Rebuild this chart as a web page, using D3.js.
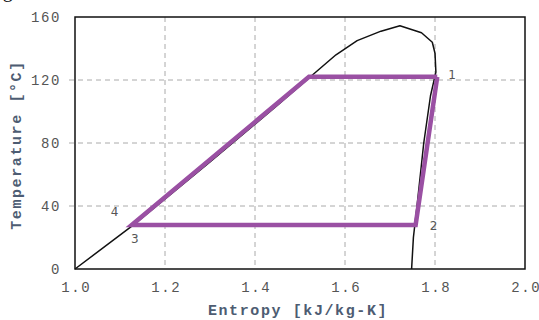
<!DOCTYPE html>
<html><head><meta charset="utf-8">
<script src="https://cdn.jsdelivr.net/npm/d3@7"></script>
<style>html,body{margin:0;padding:0;background:#fff;}svg{display:block;}</style>
</head><body>
<svg id="c" width="539" height="320"></svg>
<script>
// Saturation dome (entropy, temperature)
const domeS = [1.0, 1.13, 1.30, 1.45, 1.527, 1.58, 1.627, 1.68, 1.722, 1.77, 1.794, 1.80, 1.802, 1.79, 1.775, 1.76, 1.752, 1.748];
const domeT = [0, 28, 68, 104, 123, 136, 145, 151, 154.5, 150, 144, 137, 125, 110, 80, 40, 20, 0];
// Heat pump cycle
const cycleS = [1.805, 1.757, 1.126, 1.52, 1.805];
const cycleT = [122, 28, 28, 122, 122];
// State labels
const stateNames = ["1", "2", "3", "4"];
const stateS = [1.838, 1.797, 1.133, 1.088];
const stateT = [123, 27.5, 19, 36.5];
// Axis ticks
const xTicks = [1.0, 1.2, 1.4, 1.6, 1.8, 2.0];
const yTicks = [0, 40, 80, 120, 160];

const svg = d3.select("#c");
const L = 75, R = 525, T = 17, B = 269;
const x = d3.scaleLinear().domain([1.0, 2.0]).range([L, R]);
const y = d3.scaleLinear().domain([0, 160]).range([B, T]);

// clipped caption from the page above
svg.append("text").attr("x", -14).attr("y", -3)
  .attr("font-family", "Liberation Serif").attr("font-size", 20).attr("fill", "#111")
  .text("Figure");

// grid
const grid = svg.append("g").attr("stroke", "#aaa").attr("stroke-width", 1).attr("stroke-dasharray", "5,4");
xTicks.slice(1, -1).forEach(v => grid.append("line").attr("x1", x(v)).attr("x2", x(v)).attr("y1", T).attr("y2", B));
yTicks.slice(1, -1).forEach(v => grid.append("line").attr("x1", L - 6).attr("x2", R).attr("y1", y(v)).attr("y2", y(v)));

// axes via d3
const xAxis = d3.axisBottom(x).tickValues(xTicks).tickSize(0).tickPadding(13).tickFormat(d3.format(".1f"));
const yAxis = d3.axisLeft(y).tickValues(yTicks).tickSize(0).tickPadding(14).tickFormat(d3.format("d"));
const gx = svg.append("g").attr("transform", `translate(0,${B})`).call(xAxis);
const gy = svg.append("g").attr("transform", `translate(${L},0)`).call(yAxis);
[gx, gy].forEach(g => {
  g.select(".domain").remove();
  g.selectAll("text").attr("font-family", "Liberation Mono").attr("font-size", 14)
    .attr("letter-spacing", "1.6px").attr("fill", "#555");
});
gx.selectAll("text").attr("dy", "0.71em").attr("dx", "0.8px");

// frame
svg.append("rect").attr("x", L).attr("y", T).attr("width", R - L).attr("height", B - T)
  .attr("fill", "none").attr("stroke", "#111").attr("stroke-width", 1.5);

// dome
const line = d3.line().x(i => x(i[0])).y(i => y(i[1]));
svg.append("path").datum(domeS.map((s, i) => [s, domeT[i]]))
  .attr("d", line).attr("fill", "none").attr("stroke", "#111").attr("stroke-width", 1.5)
  .attr("stroke-linejoin", "round");

// cycle
svg.append("path").datum(cycleS.map((s, i) => [s, cycleT[i]]))
  .attr("d", line).attr("fill", "none").attr("stroke", "#9a50a3").attr("stroke-width", 4.5)
  .attr("stroke-linejoin", "miter");

// state labels
svg.append("g").selectAll("text").data(stateNames).join("text")
  .attr("x", (d, i) => x(stateS[i])).attr("y", (d, i) => y(stateT[i]))
  .attr("dy", "0.35em").attr("text-anchor", "middle")
  .attr("font-family", "DejaVu Sans").attr("font-size", 12).attr("fill", "#555")
  .text(d => d);

// axis titles
svg.append("text").attr("x", 298).attr("y", 310).attr("dy", "0.35em").attr("text-anchor", "middle")
  .attr("font-family", "Liberation Mono").attr("font-weight", "bold").attr("font-size", 15)
  .attr("letter-spacing", "1.6px").attr("fill", "#4d5c72").text("Entropy [kJ/kg-K]");
svg.append("text").attr("transform", "translate(16,145) rotate(-90)").attr("dy", "0.35em").attr("text-anchor", "middle")
  .attr("font-family", "Liberation Mono").attr("font-weight", "bold").attr("font-size", 15)
  .attr("letter-spacing", "1.6px").attr("fill", "#4d5c72").text("Temperature [°C]");
</script>
</body></html>
